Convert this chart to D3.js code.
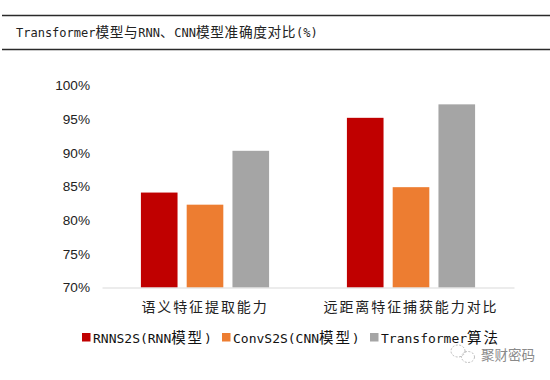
<!DOCTYPE html>
<html>
<head>
<meta charset="utf-8">
<script src="https://cdn.jsdelivr.net/npm/d3@7"></script>
<style>
html, body { margin: 0; padding: 0; background: #fff; }
svg { display: block; }
.cjk { font-family: "Noto Sans CJK SC", sans-serif; }
</style>
</head>
<body>
<div id="chart"></div>
<script>
var categories = ["语义特征提取能力", "远距离特征捕获能力对比"];
var seriesNames = ["RNNS2S", "ConvS2S", "Transformer"];
var legendLabels = ["RNNS2S(RNN模型)", "ConvS2S(CNN模型)", "Transformer算法"];
var rnnValues = [84.1, 95.2];
var cnnValues = [82.3, 84.9];
var transformerValues = [90.3, 97.2];
var tickValues = [70, 75, 80, 85, 90, 95, 100];
var colors = ["#c00000", "#ed7d31", "#a5a5a5"];
var titleText = "Transformer模型与RNN、CNN模型准确度对比(%)";
var watermarkText = "聚财密码";

var width = 550, height = 380;
var margin = {top: 85.5, right: 36, bottom: 92.5, left: 102};

var svg = d3.select("#chart").append("svg")
    .attr("width", width)
    .attr("height", height);

// latin runs in mono, cjk runs a bit bigger, the way the original mixes fonts
function mixedText(sel, text, latinSize, cjkSize, cjkSpacing) {
  var runs = text.match(/[\u3000-\u9fff]+|[^\u3000-\u9fff]+/g);
  sel.selectAll("tspan")
    .data(runs)
    .enter().append("tspan")
    .style("font-family", function(d) {
      return /[\u3000-\u9fff]/.test(d) ? "'Noto Sans CJK SC', sans-serif" : "'DejaVu Sans Mono', monospace";
    })
    .style("font-size", function(d) {
      return (/[\u3000-\u9fff]/.test(d) ? cjkSize : latinSize) + "px";
    })
    .style("letter-spacing", function(d) {
      return /[\u3000-\u9fff]/.test(d) ? cjkSpacing + "px" : "0px";
    })
    .text(function(d) { return d; });
}

// title block
svg.selectAll("line.rule")
    .data([15.5, 49.5])
    .enter().append("line")
    .attr("class", "rule")
    .attr("x1", 2)
    .attr("x2", 550)
    .attr("y1", function(d) { return d; })
    .attr("y2", function(d) { return d; })
    .style("stroke", "#2a2a2a")
    .style("stroke-width", 1.6);

svg.append("text")
    .attr("x", 16)
    .attr("y", 37)
    .style("fill", "#222")
    .call(mixedText, titleText, 12, 13.7, 0.6);

var x0 = d3.scaleBand()
    .domain(categories)
    .range([margin.left, width - margin.right]);

var x1 = d3.scaleBand()
    .domain(seriesNames)
    .range([0, x0.bandwidth()])
    .paddingInner(0.2)
    .paddingOuter(0.85);

var y = d3.scaleLinear()
    .domain([70, 100])
    .range([height - margin.bottom, margin.top]);

var allSeries = [rnnValues, cnnValues, transformerValues];

var series = svg.selectAll("g.series")
    .data(allSeries)
    .enter().append("g")
    .attr("class", "series")
    .style("fill", function(d, i) { return colors[i]; });

series.selectAll("rect")
    .data(function(d, i) {
      return d.map(function(v, j) { return {cat: categories[j], name: seriesNames[i], value: v}; });
    })
    .enter().append("rect")
    .attr("x", function(d) { return x0(d.cat) + x1(d.name); })
    .attr("y", function(d) { return y(d.value); })
    .attr("width", x1.bandwidth())
    .attr("height", function(d) { return y(70) - y(d.value); });

// y axis, only the labels show
var yAxis = svg.append("g")
    .attr("transform", "translate(" + margin.left + ",0)")
    .call(d3.axisLeft(y).tickValues(tickValues).tickSize(0).tickPadding(12)
      .tickFormat(function(d) { return d + "%"; }));
yAxis.select(".domain").remove();
yAxis.selectAll("text")
    .style("font-family", "'Liberation Sans', Arial, sans-serif")
    .style("font-size", "13.6px")
    .style("fill", "#222");

var xAxis = svg.append("g")
    .attr("transform", "translate(0," + y(70) + ")")
    .call(d3.axisBottom(x0).tickSize(0).tickPadding(15));
xAxis.select(".domain").style("stroke", "#d9d9d9").style("stroke-width", 1);
xAxis.selectAll("text")
    .attr("class", "cjk")
    .style("font-size", "14px")
    .style("letter-spacing", "1.9px")
    .style("fill", "#222");

// legend
var legendX = [82, 222, 370];
var legend = svg.selectAll("g.legend")
    .data(legendLabels)
    .enter().append("g")
    .attr("class", "legend")
    .attr("transform", function(d, i) { return "translate(" + legendX[i] + ",333)"; });

legend.append("rect")
    .attr("x", 0)
    .attr("y", 0)
    .attr("width", 8.5)
    .attr("height", 8.5)
    .style("fill", function(d, i) { return colors[i]; });

legend.append("text")
    .attr("x", 11)
    .attr("y", 10)
    .style("fill", "#111")
    .each(function(d) { d3.select(this).call(mixedText, d, 13, 14.5, 1.8); });

// watermark
svg.append("text")
    .attr("class", "cjk")
    .attr("x", 481)
    .attr("y", 360)
    .style("font-size", "13.5px")
    .style("fill", "#8a8a8a")
    .text(watermarkText);

var icon = svg.append("g").style("fill", "none").style("stroke", "#aaa").style("stroke-width", 0.8).style("stroke-dasharray", "2 1.5");
icon.append("ellipse").attr("cx", 458).attr("cy", 351).attr("rx", 7).attr("ry", 6);
icon.append("ellipse").attr("cx", 468).attr("cy", 357).attr("rx", 6.5).attr("ry", 5.5);
</script>
</body>
</html>
